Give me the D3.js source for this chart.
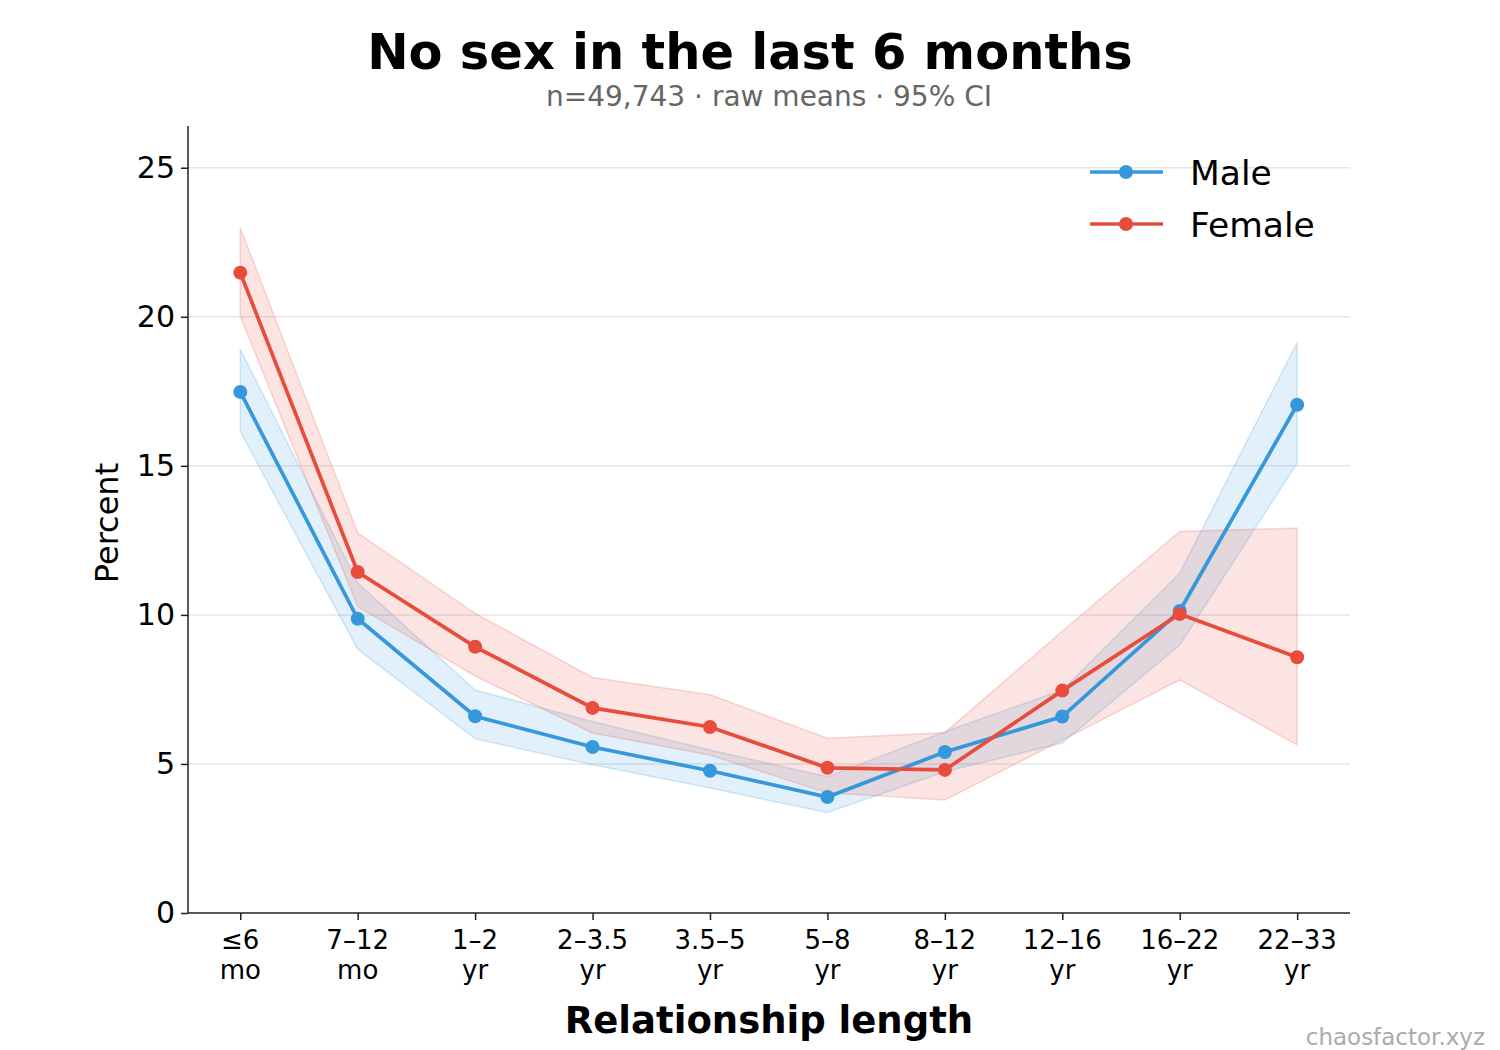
<!DOCTYPE html>
<html>
<head>
<meta charset="utf-8">
<script src="https://cdn.jsdelivr.net/npm/d3@7"></script>
<style>
  body { margin: 0; background: #fff; }
  svg { font-family: "DejaVu Sans", sans-serif; }
</style>
</head>
<body>
<div id="chart"></div>
<script>
// categories (two-line tick labels)
var catTop = ["≤6", "7–12", "1–2", "2–3.5", "3.5–5", "5–8", "8–12", "12–16", "16–22", "22–33"];
var catBottom = ["mo", "mo", "yr", "yr", "yr", "yr", "yr", "yr", "yr", "yr"];

// percent values and 95% CI
var maleMean = [17.48, 9.87, 6.6, 5.57, 4.77, 3.89, 5.4, 6.59, 10.13, 17.05];
var maleLow  = [16.15, 8.85, 5.85, 4.97, 4.19, 3.37, 4.74, 5.7, 8.99, 15.09];
var maleHigh = [18.92, 11.07, 7.48, 6.42, 5.47, 4.57, 6.08, 7.48, 11.4, 19.14];

var femaleMean = [21.48, 11.44, 8.93, 6.88, 6.24, 4.87, 4.8, 7.46, 10.03, 8.58];
var femaleLow  = [20.02, 10.28, 7.95, 6.04, 5.3, 4.03, 3.79, 5.8, 7.82, 5.64];
var femaleHigh = [22.99, 12.75, 10.05, 7.9, 7.32, 5.86, 6.05, 9.45, 12.8, 12.91];

var yTicks = [0, 5, 10, 15, 20, 25];

var svgWidth = 1500, svgHeight = 1050;
var margin = { top: 126, right: 150, bottom: 137, left: 188 };
var chartWidth = svgWidth - margin.left - margin.right;
var chartHeight = svgHeight - margin.top - margin.bottom;

var svg = d3.select("#chart").append("svg")
  .attr("width", svgWidth)
  .attr("height", svgHeight);

var chartGroup = svg.append("g")
  .attr("transform", `translate(${margin.left}, ${margin.top})`);

var xScale = d3.scaleLinear()
  .domain([-0.445, 9.45])
  .range([0, chartWidth]);

var yScale = d3.scaleLinear()
  .domain([0, 26.4])
  .range([chartHeight, 0]);

// gridlines
chartGroup.selectAll(".grid")
  .data(yTicks.filter(d => d > 0))
  .enter()
  .append("line")
  .attr("x1", 0)
  .attr("x2", chartWidth)
  .attr("y1", d => yScale(d))
  .attr("y2", d => yScale(d))
  .attr("stroke", "#e6e6e6")
  .attr("stroke-width", 1.5);

var series = [
  { name: "Male", color: "#3498db", mean: maleMean, low: maleLow, high: maleHigh },
  { name: "Female", color: "#e74c3c", mean: femaleMean, low: femaleLow, high: femaleHigh }
];

var area = d3.area()
  .x((d, i) => xScale(i))
  .y0(d => yScale(d[0]))
  .y1(d => yScale(d[1]));

var line = d3.line()
  .x((d, i) => xScale(i))
  .y(d => yScale(d));

// CI bands
series.forEach(function(s) {
  var band = s.low.map((v, i) => [v, s.high[i]]);
  chartGroup.append("path")
    .datum(band)
    .attr("d", area)
    .attr("fill", s.color)
    .attr("fill-opacity", 0.15)
    .attr("stroke", s.color)
    .attr("stroke-opacity", 0.2)
    .attr("stroke-width", 1.5);
});

// lines + points
series.forEach(function(s) {
  chartGroup.append("path")
    .datum(s.mean)
    .attr("d", line)
    .attr("fill", "none")
    .attr("stroke", s.color)
    .attr("stroke-width", 3.7);

  chartGroup.selectAll(".pt-" + s.name)
    .data(s.mean)
    .enter()
    .append("circle")
    .attr("cx", (d, i) => xScale(i))
    .attr("cy", d => yScale(d))
    .attr("r", 7)
    .attr("fill", s.color);
});

// axes
var yAxis = d3.axisLeft(yScale).tickValues(yTicks).tickSize(7).tickPadding(6);
var xAxis = d3.axisBottom(xScale).tickValues(d3.range(10)).tickSize(7).tickFormat("");

var yG = chartGroup.append("g").call(yAxis);
yG.select(".domain").attr("d", `M0,0V${chartHeight}`);
yG.selectAll("line").attr("stroke", "#222").attr("stroke-width", 1.5);
yG.select(".domain").attr("stroke", "#222").attr("stroke-width", 1.5);
yG.selectAll("text")
  .attr("font-size", 30)
  .attr("fill", "#000")
  .attr("font-family", "DejaVu Sans");

var xG = chartGroup.append("g")
  .attr("transform", `translate(0, ${chartHeight})`)
  .call(xAxis);
xG.select(".domain").attr("d", `M0,0H${chartWidth}`).attr("stroke", "#222").attr("stroke-width", 1.5);
xG.selectAll("line").attr("stroke", "#222").attr("stroke-width", 1.5);

// two-line x tick labels
var xLab = chartGroup.selectAll(".xlab")
  .data(catTop)
  .enter()
  .append("text")
  .attr("x", (d, i) => xScale(i))
  .attr("y", chartHeight + 36)
  .attr("text-anchor", "middle")
  .attr("font-size", 26)
  .attr("fill", "#000");
xLab.append("tspan").attr("x", (d, i) => xScale(i)).text(d => d);
xLab.append("tspan").attr("x", (d, i) => xScale(i)).attr("dy", 30).text((d, i) => catBottom[i]);

// axis titles
svg.append("text")
  .attr("x", margin.left + chartWidth / 2)
  .attr("y", 1033)
  .attr("text-anchor", "middle")
  .attr("font-size", 37)
  .attr("font-weight", "bold")
  .text("Relationship length");

svg.append("text")
  .attr("transform", "rotate(-90)")
  .attr("x", -523)
  .attr("y", 118)
  .attr("text-anchor", "middle")
  .attr("font-size", 32)
  .text("Percent");

// title and subtitle
svg.append("text")
  .attr("x", 750)
  .attr("y", 69)
  .attr("text-anchor", "middle")
  .attr("font-size", 49.5)
  .attr("font-weight", "bold")
  .text("No sex in the last 6 months");

svg.append("text")
  .attr("x", 769)
  .attr("y", 106)
  .attr("text-anchor", "middle")
  .attr("font-size", 28)
  .attr("fill", "#666")
  .text("n=49,743 · raw means · 95% CI");

// legend
var legend = svg.append("g").attr("transform", "translate(1090, 172)");
series.forEach(function(s, i) {
  var g = legend.append("g").attr("transform", `translate(0, ${i * 52})`);
  g.append("line").attr("x1", 0).attr("x2", 73).attr("y1", 0).attr("y2", 0)
    .attr("stroke", s.color).attr("stroke-width", 3.7);
  g.append("circle").attr("cx", 36).attr("cy", 0).attr("r", 7).attr("fill", s.color);
  g.append("text").attr("x", 100).attr("y", 13).attr("font-size", 34.5).text(s.name);
});

// watermark
svg.append("text")
  .attr("x", 1485)
  .attr("y", 1045)
  .attr("text-anchor", "end")
  .attr("font-size", 23)
  .attr("fill", "#aaa")
  .text("chaosfactor.xyz");
</script>
</body>
</html>
